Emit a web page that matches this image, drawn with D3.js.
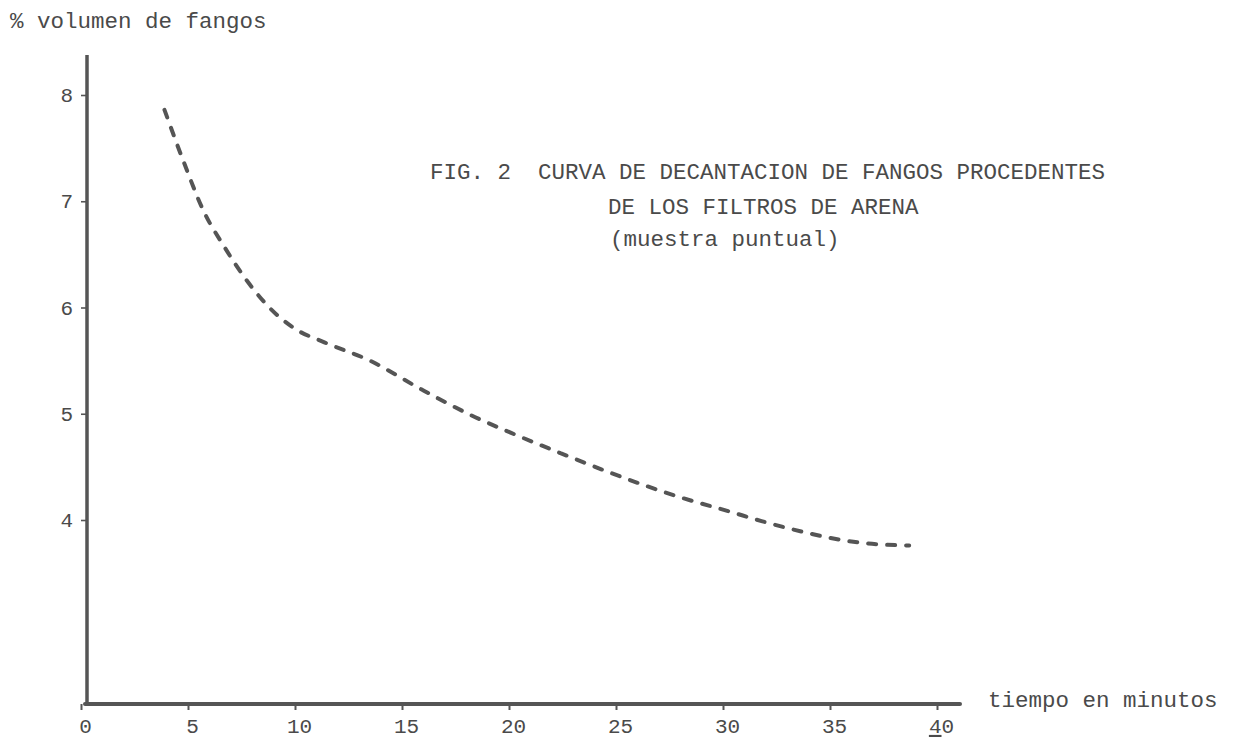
<!DOCTYPE html>
<html>
<head>
<meta charset="utf-8">
<script src="https://cdn.jsdelivr.net/npm/d3@7"></script>
<style>
  body { margin: 0; background: #fff; }
  text { font-family: "Liberation Mono", "DejaVu Sans Mono", monospace; fill: #4a4a4a; }
</style>
</head>
<body>
<script>
// ---------------- settling curve of sludge (typewriter figure) ----------------
let w = 1239,
    h = 740;

// data: time in minutes, % volume of sludge
let tiempo  = [3.9, 4.8, 5.7, 6.7, 7.8, 8.8, 10.0, 11.4, 13.5, 15.9,
               18.4, 20.1, 22.4, 24.8, 27.9, 30.3, 31.8, 33.7, 35.6, 36.7, 38.7];
let volumen = [7.86, 7.37, 6.92, 6.57, 6.24, 6.00, 5.80, 5.67, 5.50, 5.23,
               4.97, 4.82, 4.63, 4.44, 4.22, 4.08, 3.99, 3.89, 3.81, 3.78, 3.76];

let xTicks = [0, 5, 10, 15, 20, 25, 30, 35, 40];
let yTicks = [4, 5, 6, 7, 8];

let titleLines = ["FIG. 2  CURVA DE DECANTACION DE FANGOS PROCEDENTES",
                  "DE LOS FILTROS DE ARENA",
                  "(muestra puntual)"];
let yLabel = "% volumen de fangos",
    xLabel = "tiempo en minutos";

let ink = "#555";

let svg = d3.select("body")
            .append("svg")
            .attr("width", w)
            .attr("height", h);

// scales (y axis is broken: does not start at 0)
let x = d3.scaleLinear().domain([0, 40]).range([81, 937]);
let y = d3.scaleLinear().domain([4, 8]).range([520, 95]);

let baseY = 704,      // where the time axis sits
    axisX = 87;       // where the volume axis sits

// x axis ticks + labels
let gx = svg.append("g")
    .attr("transform", `translate(0,${baseY})`)
    .call(d3.axisBottom(x).tickValues(xTicks).tickFormat(d3.format("d"))
            .tickSize(6).tickPadding(8));
gx.select(".domain").remove();
gx.selectAll(".tick line").attr("stroke", ink).attr("stroke-width", 2);
gx.selectAll(".tick text")
    .attr("font-size", "21px")
    .attr("dx", 4)
    .attr("fill", "#4a4a4a")
    .text(d => d === 40 ? null : d);
// "40" typed with the 4 underlined
gx.selectAll(".tick text").filter(d => d === 40)
    .call(t => {
        t.append("tspan").attr("text-decoration", "underline").text("4");
        t.append("tspan").text("0");
    });

// y axis ticks + labels
let gy = svg.append("g")
    .attr("transform", `translate(${axisX},0)`)
    .call(d3.axisLeft(y).tickValues(yTicks).tickFormat(d3.format("d"))
            .tickSize(6).tickPadding(8));
gy.select(".domain").remove();
gy.selectAll(".tick line").attr("stroke", ink).attr("stroke-width", 1.6);
gy.selectAll(".tick text").attr("font-size", "21px").attr("fill", "#4a4a4a");

// axis lines drawn heavy, like the ink original
svg.append("line")
    .attr("x1", axisX).attr("y1", 55)
    .attr("x2", axisX).attr("y2", baseY + 2)
    .attr("stroke", ink).attr("stroke-width", 3.5);
svg.append("line")
    .attr("x1", axisX - 2).attr("y1", baseY)
    .attr("x2", 960).attr("y2", baseY)
    .attr("stroke", ink).attr("stroke-width", 4)
    .attr("stroke-linecap", "round");

// dashed curve
let pts = tiempo.map((t, i) => [t, volumen[i]]);
let line = d3.line()
    .x(d => x(d[0]))
    .y(d => y(d[1]))
    .curve(d3.curveMonotoneX);

svg.append("path")
    .datum(pts)
    .attr("d", line)
    .attr("fill", "none")
    .attr("stroke", ink)
    .attr("stroke-width", 4)
    .attr("stroke-linecap", "round")
    .attr("stroke-dasharray", "8 11");

// axis titles
svg.append("text")
    .attr("x", 10).attr("y", 28)
    .attr("font-size", "22.5px")
    .text(yLabel);
svg.append("text")
    .attr("x", 988).attr("y", 707)
    .attr("font-size", "22.5px")
    .text(xLabel);

// figure caption
let capX = [430, 608, 610],
    capY = [179, 214, 246];
svg.selectAll(".cap")
    .data(titleLines)
    .enter()
    .append("text")
        .attr("class", "cap")
        .attr("x", (d, i) => capX[i])
        .attr("y", (d, i) => capY[i])
        .attr("font-size", "22.5px")
        .attr("xml:space", "preserve")
        .style("white-space", "pre")
        .text(d => d);
</script>
</body>
</html>
